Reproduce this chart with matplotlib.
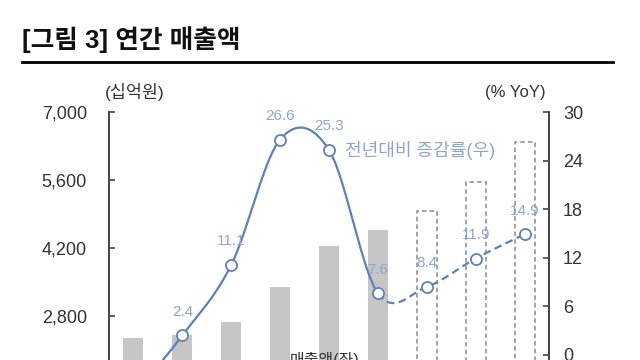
import numpy as np
import matplotlib
matplotlib.use('Agg')
import matplotlib.pyplot as plt
from matplotlib.lines import Line2D

plt.rcParams['font.family'] = ['Liberation Sans', 'Noto Sans CJK KR']

# 연간 매출액 (십억원) - 실적 6개 + 전망 3개
sales_actual = [2350, 2410, 2680, 3390, 4250, 4570]
sales_forecast = [4960, 5550, 6380]
# 전년대비 증감률 (% YoY); first point sits below the visible area
yoy = [-5.0, 2.4, 11.1, 26.6, 25.3, 7.6, 8.4, 11.9, 14.9]
yoy_labels = ['', '2.4', '11.1', '26.6', '25.3', '7.6', '8.4', '11.9', '14.9']
n_actual = len(sales_actual)

left_ticks = [2800, 4200, 5600, 7000]
right_ticks = [0, 6, 12, 18, 24, 30]

line_col = '#5f81b7'
label_col = '#8ea7d0'
text_col = '#333333'


def smooth(x, y, n=40):
    # catmull-rom style smoothing (like excel smoothed line)
    pts = np.column_stack([x, y]).astype(float)
    out = []
    for i in range(len(pts) - 1):
        p0 = pts[i - 1] if i > 0 else pts[i]
        p1 = pts[i]
        p2 = pts[i + 1]
        p3 = pts[i + 2] if i + 2 < len(pts) else pts[i + 1]
        b1 = p1 + (p2 - p0) / 6
        b2 = p2 - (p3 - p1) / 6
        t = np.linspace(0, 1, n)[:, None]
        seg = ((1 - t) ** 3) * p1 + 3 * ((1 - t) ** 2) * t * b1 + 3 * (1 - t) * t ** 2 * b2 + t ** 3 * p2
        out.append(seg if i == 0 else seg[1:])
    return np.vstack(out)


fig = plt.figure(figsize=(6.4, 3.6), dpi=100)
ax = fig.add_axes([109 / 640, 1 - 452 / 360, 440 / 640, 340 / 360])
ax2 = ax.twinx()

xs = np.arange(len(yoy))
ax.bar(xs[:n_actual], sales_actual, width=0.41, color='#c6c6c6', zorder=2)
ax.bar(xs[n_actual:], sales_forecast, width=0.41, facecolor='none',
       edgecolor='#8a8a8a', linestyle=(0, (3, 2)), linewidth=1.1, zorder=2)
ax.set_xlim(-0.5, len(yoy) - 0.5)
ax.set_ylim(0, 7000)
ax.set_yticks(left_ticks)
ax.set_yticklabels([f'{v:,}' for v in left_ticks])
ax.set_xticks([])
ax.tick_params(axis='y', direction='in', length=4, width=1.2, pad=16,
               labelsize=13, labelcolor=text_col, color='#444444')

curve = smooth(xs, yoy)
k = (n_actual - 1) * 39  # index of the last actual point on the curve
ax2.plot(curve[:k + 1, 0], curve[:k + 1, 1], color=line_col, lw=1.6, zorder=3)
ax2.plot(curve[k:, 0], curve[k:, 1], color=line_col, lw=1.6, ls=(0, (3.5, 2)), zorder=3)
ax2.plot(xs, yoy, ls='none', marker='o', markersize=8, markerfacecolor='white',
         markeredgecolor=line_col, markeredgewidth=1.3, zorder=4)
for x, y, s in zip(xs, yoy, yoy_labels):
    if s:
        ax2.annotate(s, (x, y), xytext=(0, 17), textcoords='offset points',
                     ha='center', va='center', fontsize=11, color=label_col, zorder=5)
ax2.set_ylim(-12, 30)
ax2.set_yticks(right_ticks)
ax2.tick_params(axis='y', direction='in', length=4, width=1.2, pad=10,
                labelsize=13, labelcolor=text_col, color='#444444')

for a in (ax, ax2):
    a.spines['top'].set_visible(False)
    a.spines['bottom'].set_visible(False)
    a.patch.set_visible(False)
ax.spines['right'].set_visible(False)
ax2.spines['left'].set_visible(False)
ax.spines['left'].set_color('#444444')
ax.spines['left'].set_linewidth(1.4)
ax2.spines['right'].set_color('#444444')
ax2.spines['right'].set_linewidth(1.4)

fig.text(22 / 640, 1 - 40 / 360, '[그림 3] 연간 매출액', fontsize=18.5,
         fontweight='bold', va='center', ha='left', color='#111111')
fig.add_artist(Line2D([22 / 640, 613 / 640], [1 - 62 / 360, 1 - 62 / 360],
                      color='black', lw=2))
fig.text(105 / 640, 1 - 92 / 360, '(십억원)', fontsize=12.5, va='center', color=text_col)
fig.text(485 / 640, 1 - 92 / 360, '(% YoY)', fontsize=12, va='center', color=text_col)
fig.text(345 / 640, 1 - 150 / 360, '전년대비 증감률(우)', fontsize=13,
         va='center', color=label_col)
fig.text(290 / 640, 1 - 352 / 360, '매출액(좌)', fontsize=11.5, va='top', color=text_col)

fig.savefig('out.png', dpi=100)
